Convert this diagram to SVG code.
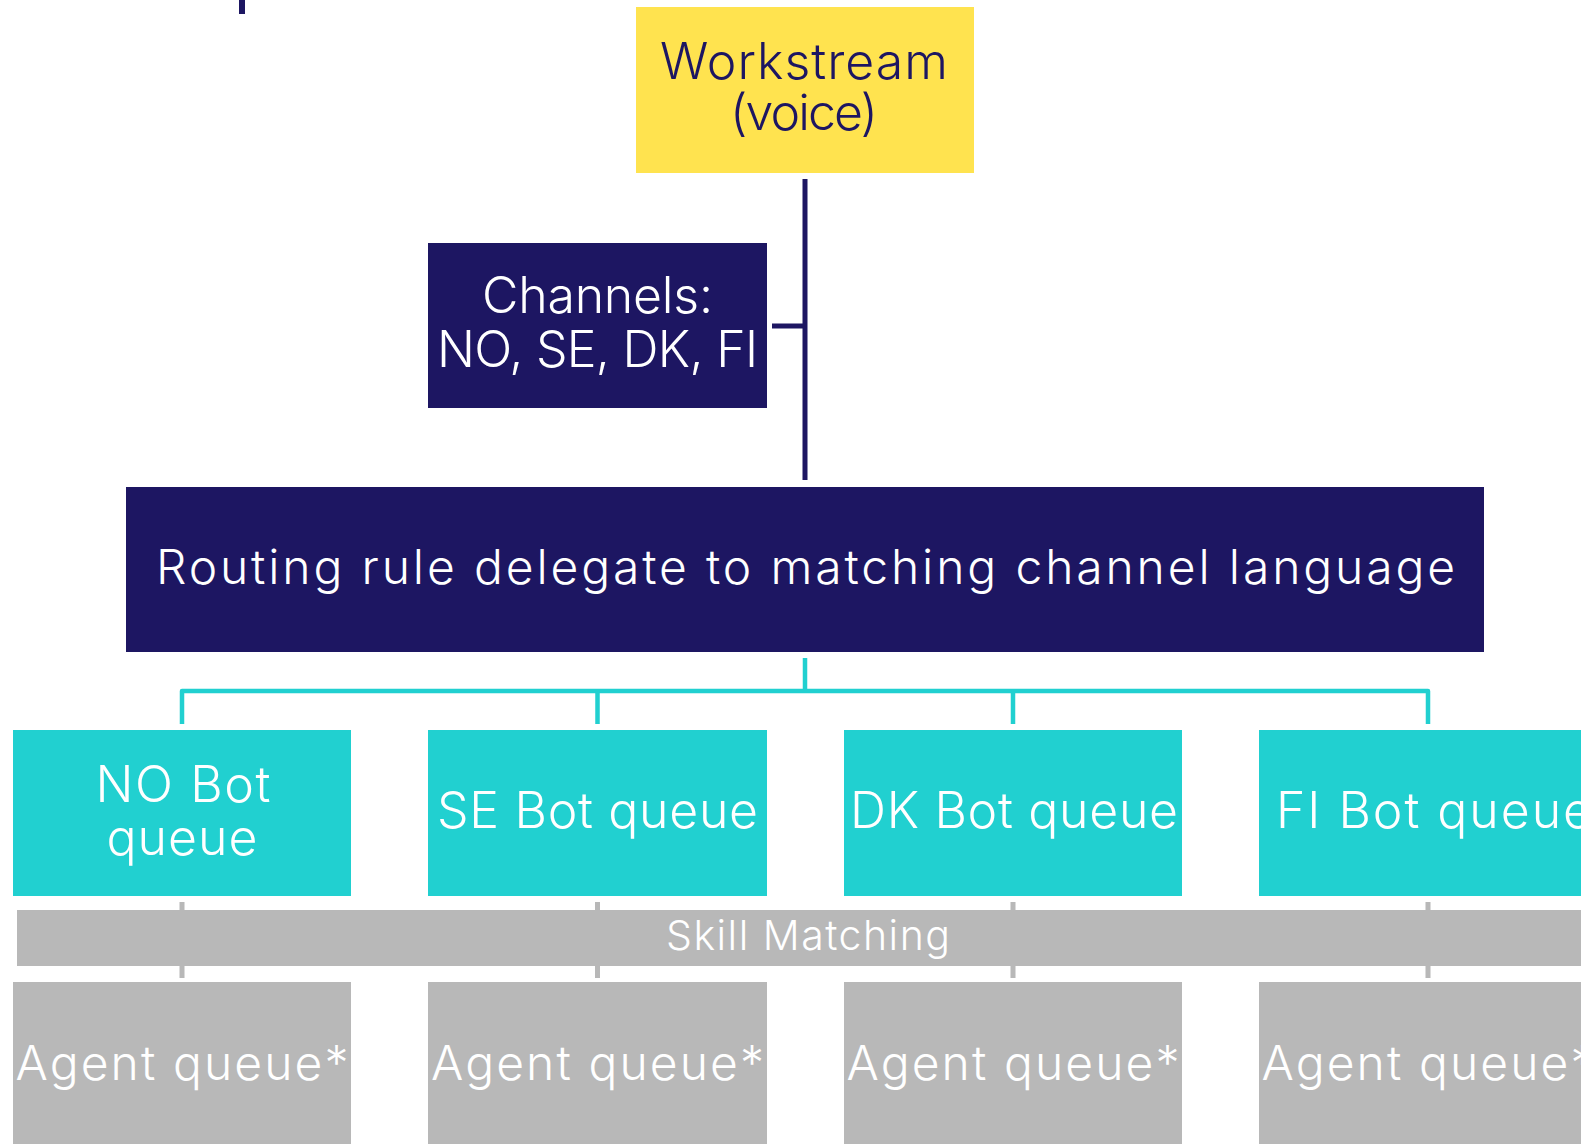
<svg xmlns="http://www.w3.org/2000/svg" width="1581" height="1144" viewBox="0 0 1581 1144">
  <style>
    text { font-family: "Inter", "Liberation Sans", sans-serif; font-weight: 300; text-anchor: middle; }
    .navy { fill: #1D1662; }
    .yellow { fill: #FFE34F; }
    .teal { fill: #21D0D0; }
    .gray { fill: #B8B8B8; }
    .lt { fill: #FFFFFF; }
    .dk { fill: #1D1662; }
    .big { font-size: 50px; }
    .mid { font-size: 48px; }
    .small { font-size: 41px; }
    .wire-navy { stroke: #1D1662; stroke-width: 5; fill: none; }
    .wire-teal { stroke: #21D0D0; stroke-width: 4.5; fill: none; stroke-linejoin: round; }
    .wire-gray { stroke: #B8B8B8; stroke-width: 5; fill: none; }
  </style>

  <rect width="1581" height="1144" fill="#FFFFFF"/>

  <g id="connectors">
    <!-- stub from the level above -->
    <rect class="navy" x="239" y="0" width="6" height="14"/>
    <!-- workstream down to routing rule, with channel branch -->
    <line class="wire-navy" x1="805" y1="179" x2="805" y2="480"/>
    <line class="wire-navy" x1="772" y1="326" x2="805" y2="326"/>
    <!-- routing rule fan-out to bot queues -->
    <path class="wire-teal" d="M805 658 V691 M182 724 V691 H1428 V724 M597.5 691 V724 M1013 691 V724"/>
    <!-- bot queue to agent queue through skill matching -->
    <path class="wire-gray" d="M182 902 V910 M182 966 V978 M597.5 902 V910 M597.5 966 V978 M1013 902 V910 M1013 966 V978 M1428 902 V910 M1428 966 V978"/>
  </g>

  <g id="workstream">
    <rect class="yellow" x="636" y="7" width="338" height="166"/>
    <text class="dk big" x="804" y="79" textLength="288">Workstream</text>
    <text class="dk big" x="804" y="130" textLength="148">(voice)</text>
  </g>

  <g id="channels">
    <rect class="navy" x="428" y="243" width="339" height="165"/>
    <text class="lt big" x="597.5" y="313" textLength="231">Channels:</text>
    <text class="lt big" x="597.5" y="367" textLength="321">NO, SE, DK, FI</text>
  </g>

  <g id="routing-rule">
    <rect class="navy" x="126" y="487" width="1358" height="165"/>
    <text class="lt mid" x="805.5" y="584" textLength="1299">Routing rule delegate to matching channel language</text>
  </g>

  <g id="no-bot-queue">
    <rect class="teal" x="13" y="730" width="338" height="166"/>
    <text class="lt big" x="183" y="802" textLength="175">NO Bot</text>
    <text class="lt big" x="182" y="855" textLength="151">queue</text>
  </g>

  <g id="se-bot-queue">
    <rect class="teal" x="428" y="730" width="339" height="166"/>
    <text class="lt big" x="597.5" y="828" textLength="321">SE Bot queue</text>
  </g>

  <g id="dk-bot-queue">
    <rect class="teal" x="844" y="730" width="338" height="166"/>
    <text class="lt big" x="1014" y="828" textLength="328">DK Bot queue</text>
  </g>

  <g id="fi-bot-queue">
    <rect class="teal" x="1259" y="730" width="338" height="166"/>
    <text class="lt big" x="1434" y="828" textLength="316">FI Bot queue</text>
  </g>

  <g id="skill-matching">
    <rect class="gray" x="17" y="910" width="1580" height="56"/>
    <text class="lt small" x="808" y="950" textLength="284">Skill Matching</text>
  </g>

  <g id="no-agent-queue">
    <rect class="gray" x="13" y="982" width="338" height="170"/>
    <text class="lt mid" x="182" y="1080" textLength="333">Agent queue*</text>
  </g>

  <g id="se-agent-queue">
    <rect class="gray" x="428" y="982" width="339" height="170"/>
    <text class="lt mid" x="597.5" y="1080" textLength="333">Agent queue*</text>
  </g>

  <g id="dk-agent-queue">
    <rect class="gray" x="844" y="982" width="338" height="170"/>
    <text class="lt mid" x="1013" y="1080" textLength="333">Agent queue*</text>
  </g>

  <g id="fi-agent-queue">
    <rect class="gray" x="1259" y="982" width="338" height="170"/>
    <text class="lt mid" x="1428" y="1080" textLength="333">Agent queue*</text>
  </g>
</svg>
